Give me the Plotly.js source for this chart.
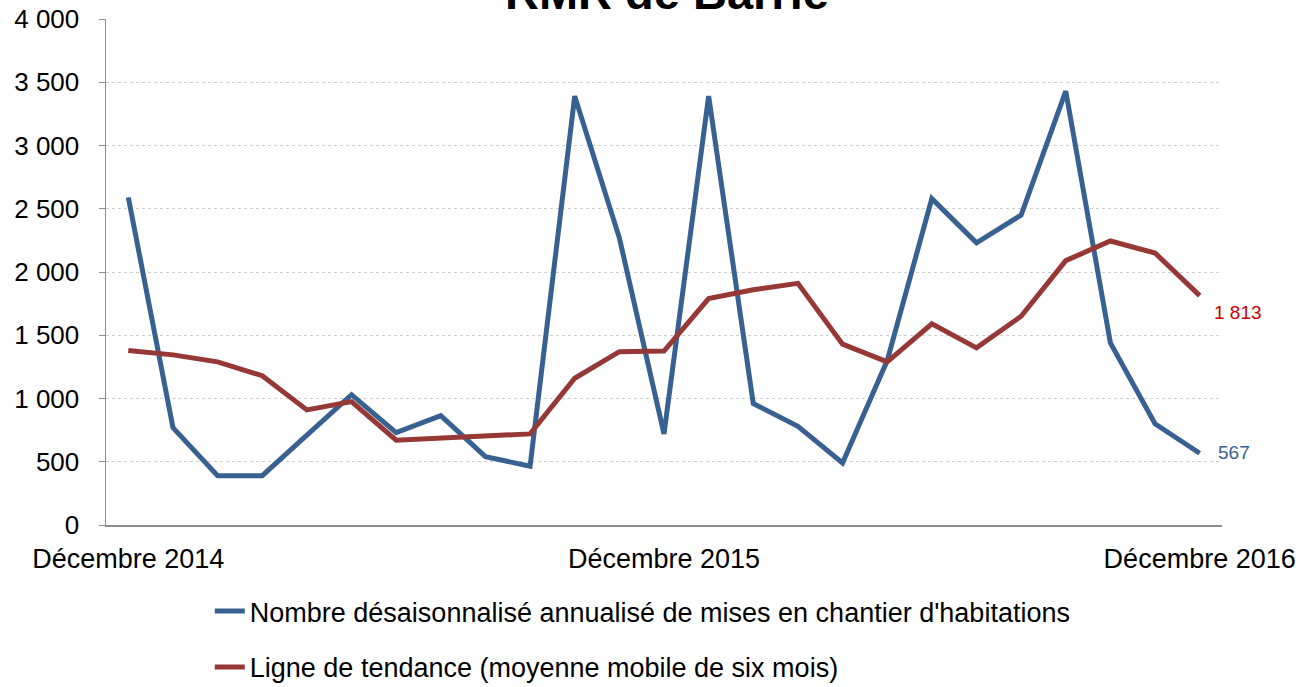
<!DOCTYPE html>
<html>
<head>
<meta charset="utf-8">
<script src="https://cdn.plot.ly/plotly-3.0.1.min.js"></script>
<style>html,body{margin:0;padding:0;background:#fff;}#chart{width:1310px;height:687px;}</style>
</head>
<body>
<div id="chart"></div>
<script>
const months = ["Décembre 2014","Janvier 2015","Février 2015","Mars 2015","Avril 2015","Mai 2015","Juin 2015","Juillet 2015","Août 2015","Septembre 2015","Octobre 2015","Novembre 2015","Décembre 2015","Janvier 2016","Février 2016","Mars 2016","Avril 2016","Mai 2016","Juin 2016","Juillet 2016","Août 2016","Septembre 2016","Octobre 2016","Novembre 2016","Décembre 2016"];
const mises = [2590,770,390,390,710,1030,730,865,540,465,3390,2270,720,3390,960,780,490,1300,2580,2230,2450,3430,1440,800,567];
const tendance = [1380,1345,1290,1180,910,975,670,685,705,720,1160,1370,1375,1790,1860,1910,1430,1290,1590,1400,1650,2090,2245,2150,1813];
const tickLabels = ["Décembre 2014","Décembre 2015","Décembre 2016"];
const yTicks = [0,500,1000,1500,2000,2500,3000,3500,4000];
const seriesNames = ["Nombre désaisonnalisé annualisé de mises en chantier d'habitations","Ligne de tendance (moyenne mobile de six mois)"];
const titleText = "RMR de Barrie";

const fontFam = "Liberation Sans, Arial, sans-serif";
const blue = "#386192";
const red = "#953836";

function fmt(v){ return String(v).replace(/\B(?=(\d{3})+(?!\d))/g, " "); }

const traces = [
  {x: months, y: mises, type: "scatter", mode: "lines", name: seriesNames[0],
   line: {color: blue, width: 5}, legend: "legend", hoverinfo: "x+y"},
  {x: months, y: tendance, type: "scatter", mode: "lines", name: seriesNames[1],
   line: {color: red, width: 5}, legend: "legend2", hoverinfo: "x+y"}
];

const last = months.length - 1;
const layout = {
  width: 1310, height: 687,
  paper_bgcolor: "#fff", plot_bgcolor: "#fff",
  margin: {l: 106, r: 88, t: 19, b: 162, autoexpand: false},
  separators: ", ",
  font: {family: fontFam, size: 27, color: "#000"},
  xaxis: {
    type: "category", range: [-0.5, months.length - 0.5],
    tickmode: "array", tickvals: tickLabels, ticktext: tickLabels,
    ticks: "", showgrid: false, showline: true, linecolor: "#8c8c8c", linewidth: 1.5,
    tickfont: {family: fontFam, size: 27, color: "#000"}, ticklabelstandoff: 9,
    zeroline: false, fixedrange: true, automargin: false
  },
  yaxis: {
    range: [0, 4000], tickmode: "array", tickvals: yTicks, ticktext: yTicks.map(fmt),
    ticks: "outside", ticklen: 6, tickcolor: "#8c8c8c", tickwidth: 1,
    showline: true, linecolor: "#8c8c8c", linewidth: 1.5,
    showgrid: true, gridcolor: "#cfcfcf", gridwidth: 1, griddash: "dot",
    zeroline: false, ticklabelstandoff: 14, automargin: false,
    tickfont: {family: fontFam, size: 26, color: "#000"}, fixedrange: true
  },
  showlegend: true,
  legend: {x: 0.093, xanchor: "left", y: -0.1225, yanchor: "top", bgcolor: "rgba(0,0,0,0)",
           font: {family: fontFam, size: 27, color: "#000"}, itemwidth: 30},
  legend2: {x: 0.093, xanchor: "left", y: -0.233, yanchor: "top", bgcolor: "rgba(0,0,0,0)",
           font: {family: fontFam, size: 27, color: "#000"}, itemwidth: 30},
  annotations: [
    {text: "<b>" + titleText + "</b>", xref: "paper", yref: "paper", x: 0.503, y: 0.997,
     xanchor: "center", yanchor: "bottom", showarrow: false,
     font: {family: fontFam, size: 47, color: "#000"}},
    {text: fmt(tendance[last]), x: months[last], y: tendance[last], xref: "x", yref: "y",
     xanchor: "left", yanchor: "middle", xshift: 12, yshift: -17, showarrow: false,
     font: {family: fontFam, size: 19, color: "#cc0000"}},
    {text: fmt(mises[last]), x: months[last], y: mises[last], xref: "x", yref: "y",
     xanchor: "left", yanchor: "middle", xshift: 16, yshift: 1, showarrow: false,
     font: {family: fontFam, size: 19, color: blue}}
  ]
};

Plotly.newPlot("chart", traces, layout, {displayModeBar: false, staticPlot: true});
</script>
</body>
</html>
